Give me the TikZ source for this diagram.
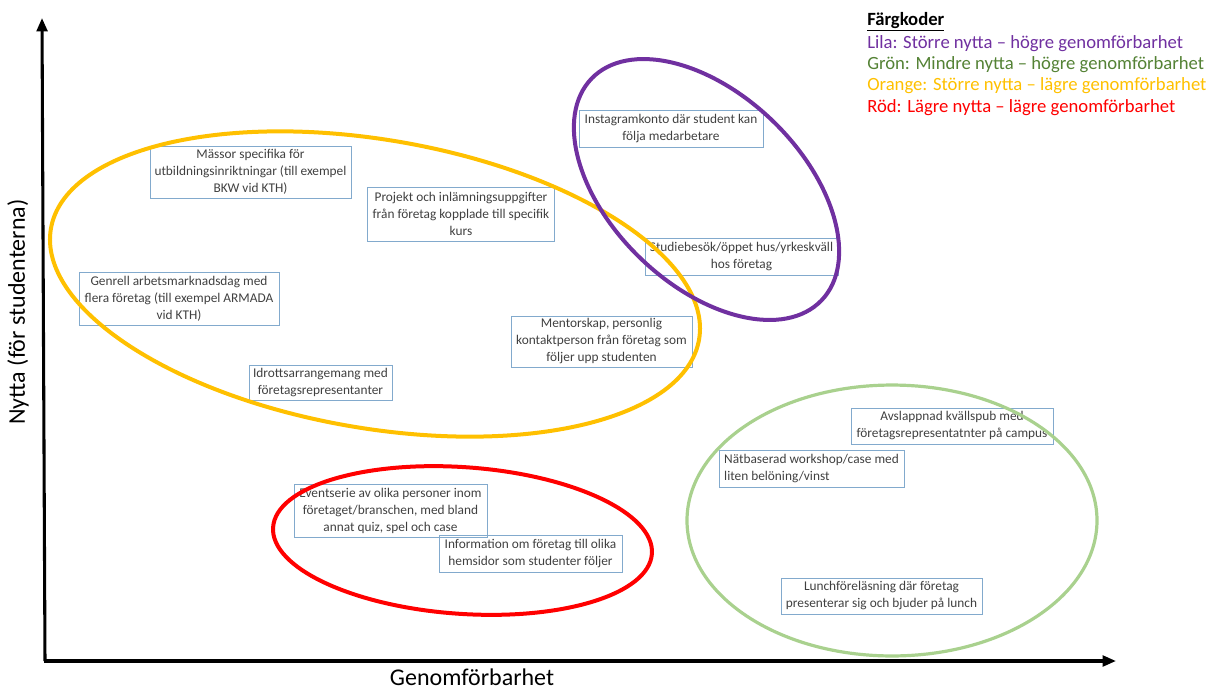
\documentclass[tikz,border=0pt]{standalone}
\usepackage{fontspec}
\setmainfont{Carlito}
\usetikzlibrary{arrows.meta}
\definecolor{lila}{HTML}{7030A0}
\definecolor{gronT}{HTML}{548235}
\definecolor{gronE}{HTML}{A9D18E}
\definecolor{orangeC}{HTML}{FFC000}
\definecolor{rodC}{HTML}{FF0000}
\definecolor{boxB}{RGB}{130,170,205}
\definecolor{txt}{HTML}{404040}
\begin{document}
\begin{tikzpicture}[x=0.75pt,y=-0.75pt,
  bx/.style={draw=boxB, line width=0.6pt, inner sep=0pt, align=center, text=txt,
    font=\fontsize{10}{12.75}\selectfont},
  ell/.style={line width=3pt},
  axisline/.style={line width=2.3pt, -{Triangle[length=10pt,width=8pt]}},
  leg/.style={anchor=base west, inner sep=0pt, font=\fontsize{14}{16}\selectfont},
  axl/.style={font=\fontsize{18}{20}\selectfont, inner sep=0pt, text=black}]
\useasboundingbox (0,0) rectangle (1208,690);

% boxes
\node[bx, minimum width=138pt, minimum height=27.75pt] (insta) at (671,128.5)
  {Instagramkonto där student kan\\följa medarbetare};
\node[bx, minimum width=150.75pt, minimum height=39pt] (massor) at (250.5,172)
  {Mässor specifika för\\utbildningsinriktningar (till exempel\\BKW vid KTH)};
\node[bx, minimum width=140.25pt, minimum height=40.5pt] (projekt) at (461,214)
  {Projekt och inlämningsuppgifter\\från företag kopplade till specifik\\kurs};
\node[bx, minimum width=144.75pt, minimum height=27.75pt] (studie) at (741.5,256.5)
  {Studiebesök/öppet hus/yrkeskväll\\hos företag};
\node[bx, minimum width=150pt, minimum height=39.75pt] (genrell) at (179,299)
  {Genrell arbetsmarknadsdag med\\flera företag (till exempel ARMADA\\vid KTH)};
\node[bx, minimum width=135.75pt, minimum height=38.25pt] (mentor) at (601.5,341.5)
  {Mentorskap, personlig\\kontaktperson från företag som\\följer upp studenten};
\node[bx, minimum width=107.25pt, minimum height=26.25pt] (idrott) at (320.5,382.5)
  {Idrottsarrangemang med\\företagsrepresentanter};
\node[bx, minimum width=151.5pt, minimum height=27pt] (avslapp) at (952,426)
  {Avslappnad kvällspub med\\företagsrepresentatnter på campus};
\node[bx, align=left, minimum width=138.75pt, minimum height=27.75pt] (natbas) at (811.5,468.5)
  {Nätbaserad workshop/case med\\liten belöning/vinst};
\node[bx, minimum width=144.75pt, minimum height=39.75pt] (event) at (390.5,510.5)
  {Eventserie av olika personer inom\\företaget/branschen, med bland\\annat quiz, spel och case};
\node[bx, minimum width=137.25pt, minimum height=27.75pt] (info) at (530.5,553.5)
  {Information om företag till olika\\hemsidor som studenter följer};
\node[bx, minimum width=150.75pt, minimum height=27pt] (lunch) at (881.5,596)
  {Lunchföreläsning där företag\\presenterar sig och bjuder på lunch};

% ellipses
\draw[ell, orangeC, rotate around={-9.7:(375,284)}] (375,284) ellipse [x radius=246.6pt, y radius=108.2pt];
\draw[ell, lila, rotate around={-44:(706.5,189.5)}] (706.5,189.5) ellipse [x radius=119.8pt, y radius=71.5pt];
\draw[ell, rodC, rotate around={-4:(462.5,540.5)}] (462.5,540.5) ellipse [x radius=142.4pt, y radius=55pt];
\draw[ell, gronE, line width=2.4pt] (892,520.5) ellipse [x radius=153.75pt, y radius=101.6pt];

% axes
\coordinate (O) at (45,661);
\coordinate (ytop) at (42,18);
\coordinate (xend) at (1116,661);
\draw[axisline] (O) -- (ytop);
\draw[axisline] ([xshift=-1pt]O) -- (xend);
\node[axl] (xlab) at (472,677) {Genomförbarhet};
\node[axl, rotate=90] (ylab) at (18,312) {Nytta (för studenterna)};

% legend
\node[leg] (l0) at (867,25) {\underline{\textbf{Färgkoder}}};
\node[leg, text=lila] (l1) at (867,48) {Lila: Större nytta – högre genomförbarhet};
\node[leg, text=gronT] (l2) at (867,69) {Grön: Mindre nytta – högre genomförbarhet};
\node[leg, text=orangeC] (l3) at (867,90) {Orange: Större nytta – lägre genomförbarhet};
\node[leg, text=rodC] (l4) at (867,112) {Röd: Lägre nytta – lägre genomförbarhet};
\end{tikzpicture}
\end{document}
